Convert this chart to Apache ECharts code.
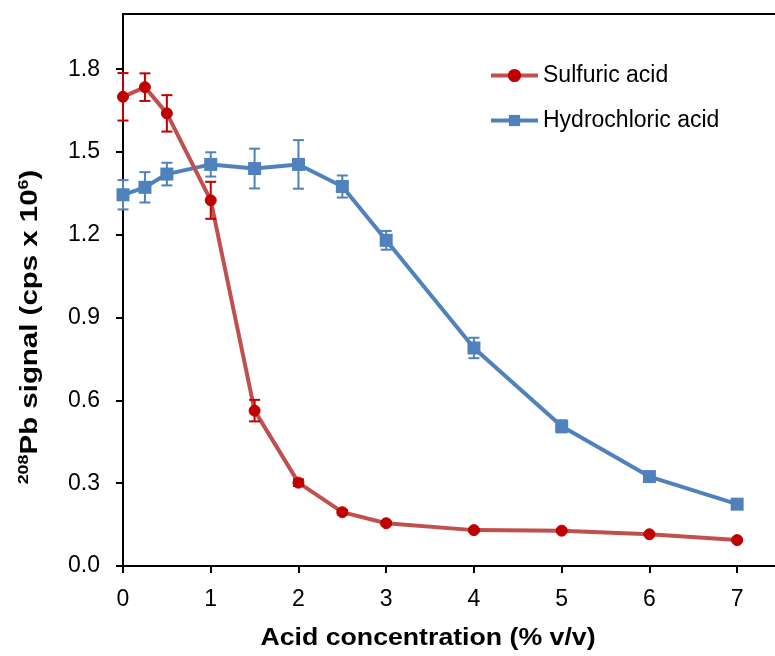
<!DOCTYPE html>
<html>
<head>
<meta charset="utf-8">
<script src="https://cdn.jsdelivr.net/npm/echarts@6/dist/echarts.min.js"></script>
<style>html,body{margin:0;padding:0;background:#fff;}#chart{width:775px;height:656px;}</style>
</head>
<body>
<div id="chart"></div>
<script>
// ---- data ----
const xValues = [0, 0.25, 0.5, 1, 1.5, 2, 2.5, 3, 4, 5, 6, 7];
const sulfuric = [1.70, 1.735, 1.64, 1.325, 0.563, 0.302, 0.195, 0.155, 0.130, 0.128, 0.115, 0.094];
const sulfuricErr = [0.086, 0.05, 0.066, 0.067, 0.039, 0.012, 0.008, 0.006, 0.005, 0.005, 0.005, 0.004];
const hydrochloric = [1.345, 1.372, 1.42, 1.455, 1.44, 1.455, 1.375, 1.18, 0.79, 0.506, 0.324, 0.224];
const hydrochloricErr = [0.053, 0.055, 0.041, 0.044, 0.072, 0.088, 0.04, 0.034, 0.037, 0.022, 0.012, 0.01];
const xTicks = [0, 1, 2, 3, 4, 5, 6, 7];
const yTicks = [0, 0.3, 0.6, 0.9, 1.2, 1.5, 1.8];
const seriesNames = ['Sulfuric acid', 'Hydrochloric acid'];

const FONT = 'Arial, "Liberation Sans", sans-serif';
const RED_LINE = '#C0504D', RED_MARK = '#C00000';
const BLUE = '#4F81BD';

function pts(ys) { return xValues.map((x, i) => [x, ys[i]]); }
function errs(ys, es) { return xValues.map((x, i) => [x, ys[i] - es[i], ys[i] + es[i]]); }

function errRender(color, width) {
  return function (params, api) {
    const x = api.value(0);
    const lo = api.coord([x, api.value(1)]);
    const hi = api.coord([x, api.value(2)]);
    const hw = 5.5;
    const st = { stroke: color, lineWidth: width };
    return {
      type: 'group',
      children: [
        { type: 'line', shape: { x1: lo[0], y1: lo[1], x2: hi[0], y2: hi[1] }, style: st },
        { type: 'line', shape: { x1: lo[0] - hw, y1: lo[1], x2: lo[0] + hw, y2: lo[1] }, style: st },
        { type: 'line', shape: { x1: hi[0] - hw, y1: hi[1], x2: hi[0] + hw, y2: hi[1] }, style: st }
      ]
    };
  };
}

const chart = echarts.init(document.getElementById('chart'), null, { renderer: 'canvas' });
chart.setOption({
  animation: false,
  backgroundColor: '#fff',
  textStyle: { fontFamily: FONT },
  grid: { left: 123, top: 14, width: 658, height: 552, show: true, borderColor: '#000', borderWidth: 2,
    backgroundColor: 'transparent', outerBoundsMode: 'none', containLabel: false },
  legend: {
    orient: 'vertical', left: 484, top: 59, itemWidth: 47, itemHeight: 14, itemGap: 22,
    data: seriesNames,
    lineStyle: { width: 4 },
    textStyle: { fontSize: 23, color: '#000', fontFamily: FONT }
  },
  xAxis: {
    type: 'value', min: 0, max: 7.5, interval: 1,
    axisLine: { lineStyle: { color: '#000', width: 2 } },
    axisTick: { show: true, length: 7, lineStyle: { color: '#000', width: 2 }, customValues: xTicks },
    axisLabel: { fontSize: 23, color: '#000', margin: 22, customValues: xTicks, fontFamily: FONT },
    splitLine: { show: false }
  },
  yAxis: {
    type: 'value', min: 0, max: 2.0, interval: 0.3,
    axisLine: { show: true, lineStyle: { color: '#000', width: 2 } },
    axisTick: { show: true, length: 7, lineStyle: { color: '#000', width: 2 }, customValues: yTicks },
    axisLabel: { fontSize: 23, color: '#000', margin: 23, customValues: yTicks, fontFamily: FONT,
      formatter: v => v.toFixed(1) },
    splitLine: { show: false }
  },
  graphic: [
    {
      type: 'text', x: 31, y: 327, rotation: Math.PI / 2, scaleX: 1.28,
      style: {
        text: '{sup|208}{b|Pb signal (cps x 10}{sup|6}{b|)}',
        textAlign: 'center', textVerticalAlign: 'middle',
        fill: '#000',
        rich: {
          b: { fontSize: 23, fontWeight: 'bold', fontFamily: FONT, lineHeight: 28, fill: '#000' },
          sup: { fontSize: 14, fontWeight: 'bold', fontFamily: FONT, lineHeight: 28, verticalAlign: 'top', fill: '#000' }
        }
      }
    },
    {
      type: 'text', x: 428, y: 639, scaleX: 1.16,
      style: {
        text: 'Acid concentration (% v/v)', textAlign: 'center', textVerticalAlign: 'middle',
        fontSize: 23, fontWeight: 'bold', fontFamily: FONT, fill: '#000'
      }
    }
  ],
  series: [
    {
      name: seriesNames[0], type: 'line', data: pts(sulfuric),
      symbol: 'circle', symbolSize: 11,
      lineStyle: { color: RED_LINE, width: 4 },
      itemStyle: { color: RED_MARK, borderColor: RED_MARK, borderWidth: 1 },
      z: 3
    },
    {
      name: seriesNames[1], type: 'line', data: pts(hydrochloric),
      symbol: 'rect', symbolSize: 13,
      lineStyle: { color: BLUE, width: 4 },
      itemStyle: { color: BLUE },
      z: 2
    },
    {
      name: 'errS', type: 'custom', data: errs(sulfuric, sulfuricErr),
      renderItem: errRender(RED_MARK, 2), z: 4, silent: true
    },
    {
      name: 'errH', type: 'custom', data: errs(hydrochloric, hydrochloricErr),
      renderItem: errRender(BLUE, 2), z: 4, silent: true
    }
  ]
});
</script>
</body>
</html>
